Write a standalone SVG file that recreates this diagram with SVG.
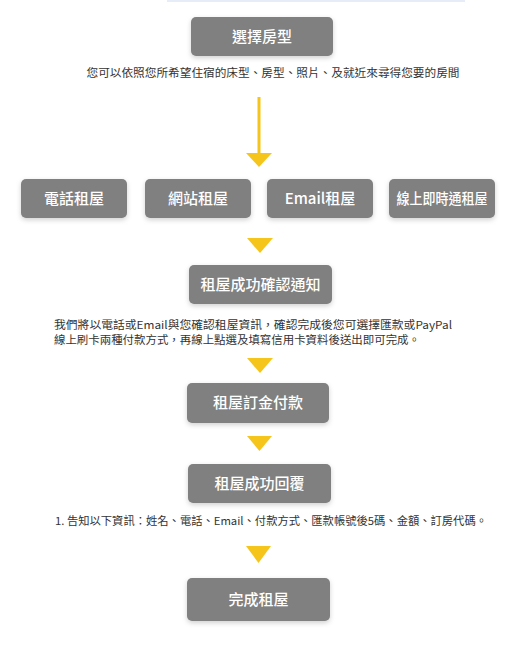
<svg xmlns="http://www.w3.org/2000/svg" width="527" height="662" viewBox="0 0 527 662">
<defs>
<filter id="sh" x="-20%" y="-30%" width="140%" height="170%">
<feDropShadow dx="0" dy="2" stdDeviation="2.5" flood-color="#000" flood-opacity="0.18"/>
</filter>
<style>
.box{fill:#808080;filter:url(#sh)}
.bt{font-family:"Noto Sans CJK TC","Noto Sans",sans-serif;font-size:15px;fill:#fff;text-anchor:middle;font-weight:500}
.desc{font-family:"Noto Sans CJK TC","Noto Sans",sans-serif;font-size:11px;fill:#333}
.tri{fill:#f5c51c}
</style>
</defs>
<rect x="167" y="0" width="298" height="2" fill="#e6edf8"/>
<g id="n1"><rect class="box" x="191" y="17" width="142" height="39" rx="5"/><text class="bt" x="262" y="42">選擇房型</text></g>
<text class="desc" x="273" y="77" text-anchor="middle" textLength="373" lengthAdjust="spacingAndGlyphs">您可以依照您所希望住宿的床型、房型、照片、及就近來尋得您要的房間</text>
<g id="connectors">
<rect x="257.5" y="97" width="3" height="58" fill="#f5c51c"/>
<polygon class="tri" points="246,153 272,153 259,167"/>
<polygon class="tri" points="247,238 273,238 260,253"/>
<polygon class="tri" points="247,358 273,358 260,373"/>
<polygon class="tri" points="247,436 272,436 259.5,451"/>
<polygon class="tri" points="246,546 271,546 258.5,563"/>
</g>
<g id="n2"><rect class="box" x="21" y="179" width="106" height="39" rx="5"/><text class="bt" x="74" y="204">電話租屋</text></g>
<g id="n3"><rect class="box" x="145" y="179" width="106" height="39" rx="5"/><text class="bt" x="198" y="204">網站租屋</text></g>
<g id="n4"><rect class="box" x="267" y="179" width="106" height="39" rx="5"/><text class="bt" x="320" y="204">Email租屋</text></g>
<g id="n5"><rect class="box" x="389" y="179" width="106" height="39" rx="5"/><text class="bt" x="442" y="204" style="font-size:14.5px" textLength="91" lengthAdjust="spacingAndGlyphs">線上即時通租屋</text></g>
<g id="n6"><rect class="box" x="189" y="265" width="143" height="39" rx="5"/><text class="bt" x="260.5" y="290">租屋成功確認通知</text></g>
<text class="desc" x="54" y="328.5" textLength="398" lengthAdjust="spacingAndGlyphs">我們將以電話或Email與您確認租屋資訊，確認完成後您可選擇匯款或PayPal</text>
<text class="desc" x="54" y="343.5" textLength="366" lengthAdjust="spacingAndGlyphs">線上刷卡兩種付款方式，再線上點選及填寫信用卡資料後送出即可完成。</text>
<g id="n7"><rect class="box" x="187" y="383" width="142" height="40" rx="5"/><text class="bt" x="258" y="408">租屋訂金付款</text></g>
<g id="n8"><rect class="box" x="188" y="464" width="143" height="39" rx="5"/><text class="bt" x="259.5" y="489">租屋成功回覆</text></g>
<text class="desc" x="55" y="525" textLength="432" lengthAdjust="spacingAndGlyphs">1. 告知以下資訊：姓名、電話、Email、付款方式、匯款帳號後5碼、金額、訂房代碼。</text>
<g id="n9"><rect class="box" x="187" y="578" width="143" height="43" rx="5"/><text class="bt" x="258.5" y="605">完成租屋</text></g>
</svg>
